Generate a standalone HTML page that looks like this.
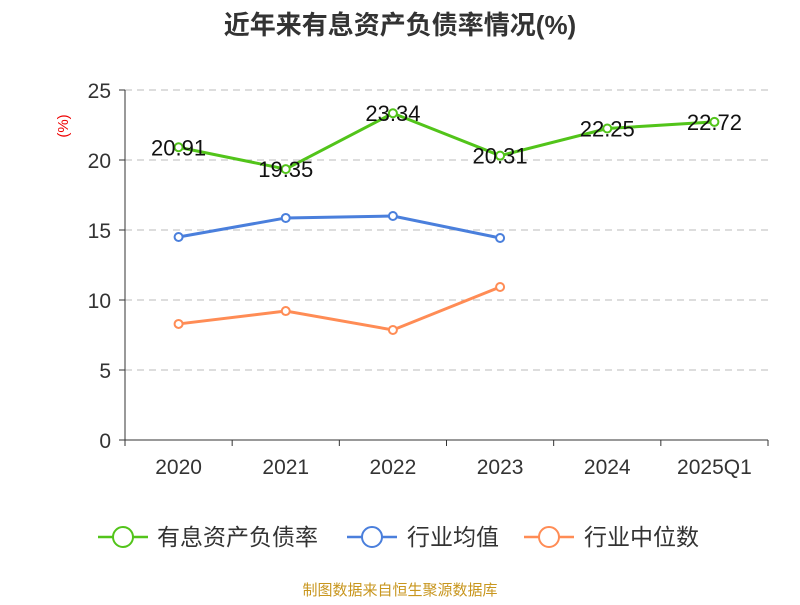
<!DOCTYPE html>
<html><head><meta charset="utf-8"><style>
body{margin:0;background:#fff;font-family:"Liberation Sans","Noto Sans CJK SC",sans-serif}
</style></head><body>
<svg width="800" height="600" xmlns="http://www.w3.org/2000/svg">
<text x="400" y="34" text-anchor="middle" font-size="26" font-weight="bold" fill="#333" font-family="Liberation Sans, Noto Sans CJK SC, sans-serif">近年来有息资产负债率情况(%)</text>
<text transform="translate(68,126) rotate(-90)" text-anchor="middle" font-size="15" fill="#e00">(%)</text>
<g id="grid"></g><g id="axes"></g><g id="series"></g>
<g font-size="23" fill="#333" font-family="Liberation Sans, Noto Sans CJK SC, sans-serif">
<g><line x1="98" y1="537" x2="148" y2="537" stroke="#52c41a" stroke-width="2.5"/><circle cx="123" cy="537" r="10" fill="#fff" stroke="#52c41a" stroke-width="2"/><text x="157" y="545">有息资产负债率</text></g>
<g><line x1="347" y1="537" x2="397" y2="537" stroke="#4a7fdc" stroke-width="2.5"/><circle cx="372" cy="537" r="10" fill="#fff" stroke="#4a7fdc" stroke-width="2"/><text x="407" y="545">行业均值</text></g>
<g><line x1="524" y1="537" x2="574" y2="537" stroke="#ff8c55" stroke-width="2.5"/><circle cx="549" cy="537" r="10" fill="#fff" stroke="#ff8c55" stroke-width="2"/><text x="584" y="545">行业中位数</text></g>
</g>
<text x="400" y="595" text-anchor="middle" font-size="15" fill="#c8961e" font-family="Liberation Sans, Noto Sans CJK SC, sans-serif">制图数据来自恒生聚源数据库</text>
</svg>
<script>
const categories=["2020","2021","2022","2023","2024","2025Q1"];
const debtRatio=[20.91,19.35,23.34,20.31,22.25,22.72];
const industryMean=[14.5,15.86,16.0,14.43,null,null];
const industryMedian=[8.29,9.21,7.86,10.93,null,null];
const yTicks=[0,5,10,15,20,25];
const NS="http://www.w3.org/2000/svg";
const L=125,R=768,T=90,B=440,yMax=25;
const bw=(R-L)/categories.length;
const x=i=>L+bw*(i+0.5);
const y=v=>B-(v/yMax)*(B-T);
function mk(t,a,p){const e=document.createElementNS(NS,t);for(const k in a)e.setAttribute(k,a[k]);p.appendChild(e);return e;}
const grid=document.getElementById('grid'),axes=document.getElementById('axes'),ser=document.getElementById('series');
yTicks.forEach(v=>{
 if(v>0){const g=mk('line',{x1:L,x2:R,y1:y(v),y2:y(v),stroke:'#bbb','stroke-dasharray':'7,5'},grid);
 
 }
 const tk=mk('line',{x1:L-6,x2:L,y1:y(v),y2:y(v),stroke:'#333'},axes);
 
 
 const t=mk('text',{x:L-14,y:y(v)+8,'text-anchor':'end','font-size':21,fill:'#333'},axes);t.textContent=v;
 
 
});
const ya=mk('line',{x1:L,x2:L,y1:T,y2:B,stroke:'#333'},axes);


const xa=mk('line',{x1:L,x2:R,y1:B,y2:B,stroke:'#333'},axes);


for(let i=0;i<=categories.length;i++){const tk=mk('line',{x1:L+bw*i,x2:L+bw*i,y1:B,y2:B+6,stroke:'#333'},axes);
 
 }
categories.forEach((c,i)=>{const t=mk('text',{x:x(i),y:B+34,'text-anchor':'middle','font-size':21,fill:'#333'},axes);t.textContent=c;
 
 });
function series(data,color,name,labels){
 const g=mk('g',{},ser);
 
 
 const pts=data.map((v,i)=>v==null?null:[x(i),y(v)]).filter(p=>p);
 mk('polyline',{points:pts.map(p=>p.join(',')).join(' '),fill:'none',stroke:color,'stroke-width':3},g);
 data.forEach((v,i)=>{if(v==null)return;
  const c=mk('circle',{cx:x(i),cy:y(v),r:4,fill:'#fff',stroke:color,'stroke-width':2},g);
  
  
  if(labels){const t=mk('text',{x:x(i),y:y(v)+8,'text-anchor':'middle','font-size':22,fill:'#111'},g);t.textContent=v.toFixed(2);
   
   }
 });
}
series(industryMedian,'#ff8c55','industry-median-line',false);
series(industryMean,'#4a7fdc','industry-mean-line',false);
series(debtRatio,'#52c41a','debt-ratio-line',true);
</script>
</body></html>
